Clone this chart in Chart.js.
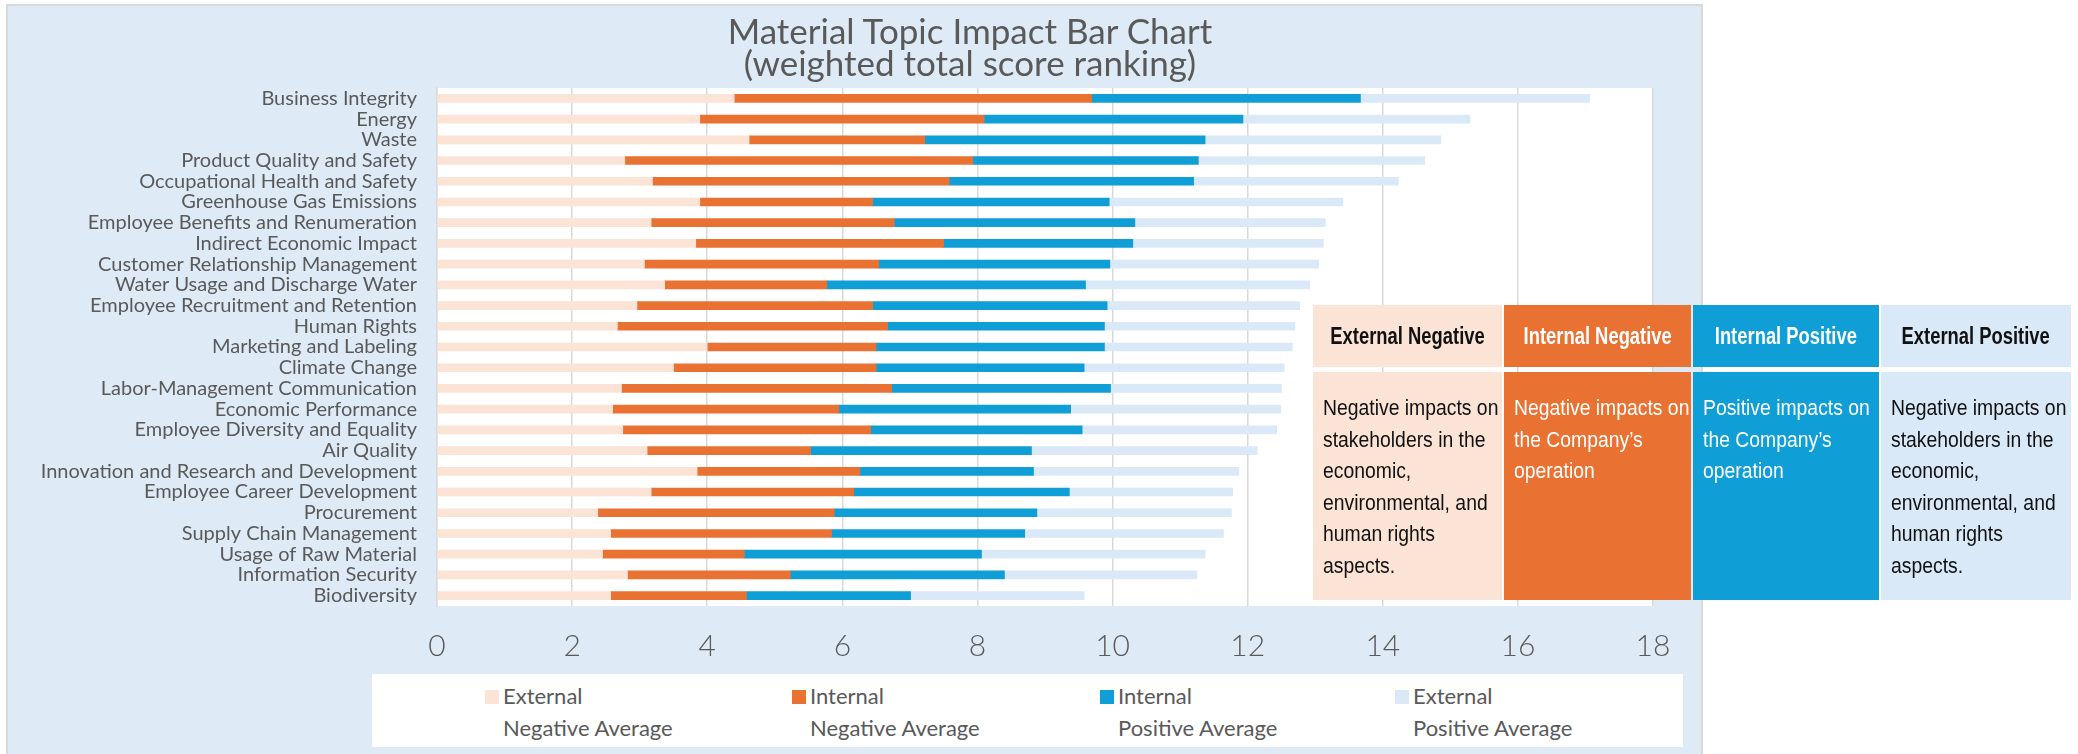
<!DOCTYPE html>
<html>
<head>
<meta charset="utf-8">
<script src="https://cdn.jsdelivr.net/npm/chart.js@4.4.1/dist/chart.umd.min.js"></script>
<style>
  html, body { margin: 0; padding: 0; background: #ffffff; width: 2078px; height: 754px; overflow: hidden; position: relative; font-family: Lato, "Open Sans", sans-serif; }
  #panel { position: absolute; left: 6px; top: 4px; width: 1693px; height: 800px; border: 2px solid #D9D9D9; background: #DEEBF7; box-sizing: content-box; }
  #chartCanvas { position: absolute; left: 0; top: 0; }
  #title { position: absolute; left: 570px; width: 800px; top: 14px; text-align: center; color: #595959; font-size: 35px; line-height: 32px; }
  #legend { position: absolute; left: 372px; top: 674px; width: 1311px; height: 73px; background: #ffffff; }
  .lg-item { position: absolute; top: 0; }
  .lg-sw { position: absolute; top: 16px; width: 14px; height: 14px; }
  .lg-tx { position: absolute; top: 6px; left: 18px; white-space: nowrap; color: #595959; font-size: 22px; line-height: 32px; }
  #table { position: absolute; left: 1313px; top: 305px; display: grid; grid-template-columns: 189px 187px 186px 190px; grid-template-rows: 62px 228px; column-gap: 2px; row-gap: 5px; font-family: "Liberation Sans", Arial, sans-serif; }
  .th { display: flex; align-items: center; justify-content: center; font-weight: bold; font-size: 23px; white-space: nowrap; overflow: hidden; }
  .th span { display: inline-block; transform: scaleX(0.8); transform-origin: center; }
  .td { padding: 20px 0 0 10px; font-size: 22px; line-height: 31.5px; white-space: nowrap; box-sizing: border-box; overflow: hidden; }
  .td span { display: block; transform: scaleX(0.88); transform-origin: left; }
</style>
</head>
<body>
<div id="panel"></div>
<canvas id="chartCanvas" width="2078" height="754"></canvas>
<div id="title"></div>
<div id="legend"></div>
<div id="table"></div>
<script>
// ---- data ----
const titleLines = ["Material Topic Impact Bar Chart", "(weighted total score ranking)"];
const categories = [
  "Business Integrity", "Energy", "Waste", "Product Quality and Safety",
  "Occupational Health and Safety", "Greenhouse Gas Emissions",
  "Employee Benefits and Renumeration", "Indirect Economic Impact",
  "Customer Relationship Management", "Water Usage and Discharge Water",
  "Employee Recruitment and Retention", "Human Rights", "Marketing and Labeling",
  "Climate Change", "Labor-Management Communication", "Economic Performance",
  "Employee Diversity and Equality", "Air Quality",
  "Innovation and Research and Development", "Employee Career Development",
  "Procurement", "Supply Chain Management", "Usage of Raw Material",
  "Information Security", "Biodiversity"
];
const externalNegative = [4.40,3.89,4.62,2.78,3.19,3.89,3.17,3.83,3.07,3.37,2.96,2.67,4.00,3.50,2.73,2.60,2.75,3.11,3.85,3.17,2.38,2.57,2.45,2.82,2.57];
const internalNegative = [5.29,4.21,2.60,5.15,4.39,2.56,3.60,3.67,3.47,2.40,3.49,4.00,2.50,3.00,4.00,3.35,3.67,2.42,2.41,3.00,3.50,3.27,2.10,2.41,2.01];
const internalPositive = [3.98,3.83,4.15,3.34,3.62,3.50,3.56,2.80,3.42,3.83,3.47,3.21,3.38,3.08,3.24,3.43,3.13,3.27,2.57,3.19,3.00,2.86,3.51,3.17,2.43];
const externalPositive = [3.39,3.36,3.49,3.35,3.03,3.46,2.82,2.82,3.09,3.32,2.85,2.82,2.78,2.96,2.53,3.11,2.88,3.34,3.04,2.42,2.88,2.94,3.31,2.85,2.57];
const seriesNames = ["External Negative Average", "Internal Negative Average", "Internal Positive Average", "External Positive Average"];
const legendLines = [["External", "Negative Average"], ["Internal", "Negative Average"], ["Internal", "Positive Average"], ["External", "Positive Average"]];
const xMin = 0, xMax = 18, xStep = 2;
const tableHeaders = ["External Negative", "Internal Negative", "Internal Positive", "External Positive"];
const tableTexts = [
  ["Negative impacts on", "stakeholders in the", "economic,", "environmental, and", "human rights", "aspects."],
  ["Negative impacts on", "the Company\u2019s", "operation"],
  ["Positive impacts on", "the Company\u2019s", "operation"],
  ["Negative impacts on", "stakeholders in the", "economic,", "environmental, and", "human rights", "aspects."]
];

// ---- styles ----
const colors = ["#FBE3D6", "#E97132", "#0F9ED5", "#DAE9F8"];
const headerTextColors = ["#111111", "#ffffff", "#ffffff", "#111111"];
const textGray = "#595959";

// title
document.getElementById("title").innerHTML = titleLines.join("<br>");

// legend
const legendEl = document.getElementById("legend");
const legendX = [113, 420, 728, 1023];
legendLines.forEach((lines, i) => {
  const item = document.createElement("div");
  item.className = "lg-item";
  item.style.left = legendX[i] + "px";
  item.innerHTML = '<div class="lg-sw" style="background:' + colors[i] + '"></div><div class="lg-tx">' + lines.join("<br>") + '</div>';
  item.title = seriesNames[i];
  legendEl.appendChild(item);
});

// table
const tableEl = document.getElementById("table");
tableHeaders.forEach((h, i) => {
  const d = document.createElement("div");
  d.className = "th";
  d.style.background = colors[i];
  d.style.color = headerTextColors[i];
  const s = document.createElement("span");
  s.textContent = h;
  d.appendChild(s);
  tableEl.appendChild(d);
});
tableTexts.forEach((lines, i) => {
  const d = document.createElement("div");
  d.className = "td";
  d.style.background = colors[i];
  d.style.color = headerTextColors[i];
  lines.forEach(l => { const s = document.createElement("span"); s.textContent = l; d.appendChild(s); });
  tableEl.appendChild(d);
});

// chart
const plotBg = {
  id: "plotBg",
  beforeDraw(chart) {
    const a = chart.chartArea, ctx = chart.ctx;
    ctx.save();
    ctx.fillStyle = "#ffffff";
    ctx.fillRect(a.left, a.top, a.right - a.left, a.bottom - a.top);
    ctx.restore();
  }
};

const seriesData = [externalNegative, internalNegative, internalPositive, externalPositive];
new Chart(document.getElementById("chartCanvas"), {
  type: "bar",
  data: {
    labels: categories,
    datasets: seriesData.map((d, i) => ({
      label: seriesNames[i],
      data: d,
      backgroundColor: colors[i],
      borderWidth: 0,
      barThickness: 8
    }))
  },
  options: {
    indexAxis: "y",
    responsive: false,
    animation: false,
    devicePixelRatio: 1,
    layout: { padding: { left: 0, top: 88, right: 425, bottom: 0 } },
    plugins: { legend: { display: false }, title: { display: false }, tooltip: { enabled: false } },
    scales: {
      x: {
        stacked: true,
        min: xMin, max: xMax,
        ticks: { stepSize: xStep, padding: 22, color: textGray, font: { family: "Lato", size: 30, weight: 300 } },
        grid: { color: "#D9D9D9", lineWidth: 1.5, drawTicks: false },
        border: { display: false },
        afterFit(s) { s.height = 148; s.paddingLeft = 0; s.paddingRight = 0; }
      },
      y: {
        stacked: true,
        ticks: { padding: 20, color: textGray, font: { family: "Lato", size: 20 }, autoSkip: false },
        grid: { display: false, drawTicks: false },
        border: { display: true, color: "#D9D9D9", width: 1.5 },
        afterFit(s) { s.width = 437; s.paddingTop = 0; s.paddingBottom = 0; }
      }
    }
  },
  plugins: [plotBg]
});
</script>
</body>
</html>
